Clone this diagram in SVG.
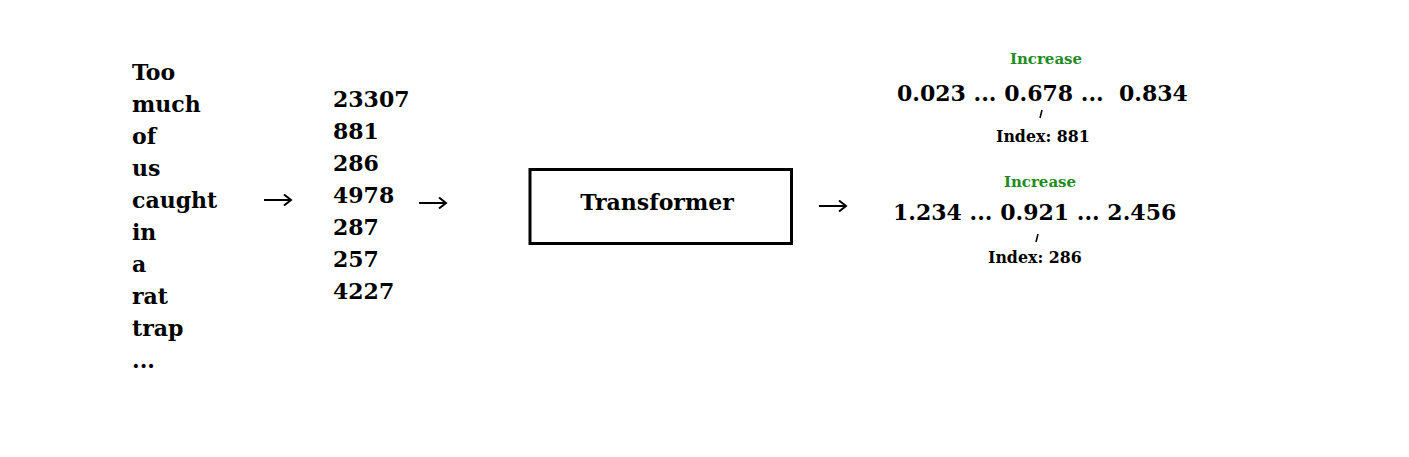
<svg xmlns="http://www.w3.org/2000/svg" width="1409" height="457" viewBox="0 0 1409 457">
<style>
text{font-family:"DejaVu Serif","Liberation Serif",serif;font-weight:bold;fill:#000}
.big{font-size:22px}
.inc{font-size:15px;fill:#228b22}
.idx{font-size:15.8px}
.pre{white-space:pre}
.arr{stroke:#000;stroke-width:2;fill:none}
</style>
<defs>
<marker id="ah" markerWidth="10" markerHeight="12" refX="8" refY="6" orient="auto" markerUnits="userSpaceOnUse">
<path d="M1,0.5 L8,6 L1,11.5" fill="none" stroke="#000" stroke-width="2"/>
</marker>
</defs>
<rect width="1409" height="457" fill="#fff"/>
<g id="words" class="big">
<text x="132" y="80">Too</text>
<text x="132" y="112">much</text>
<text x="132" y="144">of</text>
<text x="132" y="176">us</text>
<text x="132" y="208">caught</text>
<text x="132" y="240">in</text>
<text x="132" y="272">a</text>
<text x="132" y="304">rat</text>
<text x="132" y="336">trap</text>
<text x="132" y="368">...</text>
</g>
<g id="tokens" class="big">
<text x="333" y="107">23307</text>
<text x="333" y="139">881</text>
<text x="333" y="171">286</text>
<text x="333" y="203">4978</text>
<text x="333" y="235">287</text>
<text x="333" y="267">257</text>
<text x="333" y="299">4227</text>
</g>
<g id="transformer">
<rect x="530" y="169.5" width="261.5" height="74" fill="none" stroke="#000" stroke-width="3"/>
<text class="big" x="657" y="210" text-anchor="middle">Transformer</text>
</g>
<g id="output1">
<text class="inc" x="1046" y="64" text-anchor="middle">Increase</text>
<text class="big pre" x="897" y="101" xml:space="preserve">0.023 ... 0.678 ...  0.834</text>
<line x1="1042" y1="110" x2="1040" y2="118" stroke="#000" stroke-width="1.6"/>
<text class="idx" x="996" y="142">Index: 881</text>
</g>
<g id="output2">
<text class="inc" x="1040" y="187" text-anchor="middle">Increase</text>
<text class="big pre" x="893" y="220" xml:space="preserve">1.234 ... 0.921 ... 2.456</text>
<line x1="1038" y1="234" x2="1036" y2="242" stroke="#000" stroke-width="1.6"/>
<text class="idx" x="988" y="263">Index: 286</text>
</g>
<g id="connectors">
<path class="arr" d="M264,200 H291" marker-end="url(#ah)"/>
<path class="arr" d="M419,203 H446" marker-end="url(#ah)"/>
<path class="arr" d="M819,206 H846" marker-end="url(#ah)"/>
</g>
</svg>
